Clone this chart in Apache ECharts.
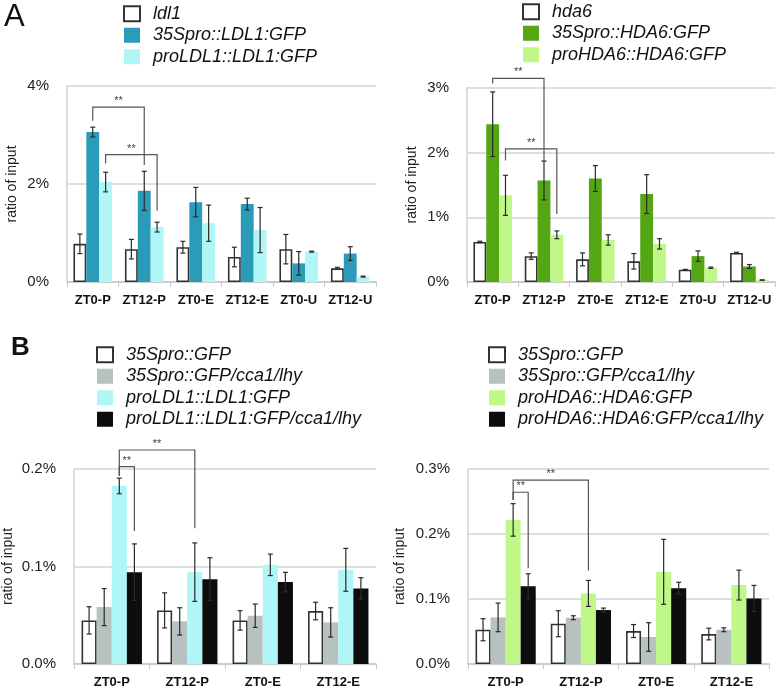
<!DOCTYPE html>
<html><head><meta charset="utf-8">
<script src="https://cdn.jsdelivr.net/npm/echarts@6/dist/echarts.min.js"></script>
<style>html,body{margin:0;padding:0;background:#fff}#c{width:777px;height:690px}</style>
</head><body><div id="c"></div>
<script>
// ---- Data ----
const catsA = ['ZT0-P','ZT12-P','ZT0-E','ZT12-E','ZT0-U','ZT12-U'];
const catsB = ['ZT0-P','ZT12-P','ZT0-E','ZT12-E'];

// Panel A left (% of input)
const ldl1      = [0.78, 0.67, 0.71, 0.51, 0.67, 0.28];
const ldl1Err   = [0.20, 0.20, 0.12, 0.20, 0.30, 0.02];
const s35LDL1   = [3.06, 1.86, 1.63, 1.59, 0.38, 0.58];
const s35LDL1Err= [0.10, 0.40, 0.30, 0.12, 0.24, 0.14];
const proLDL1   = [2.04, 1.12, 1.20, 1.06, 0.62, 0.11];
const proLDL1Err= [0.20, 0.10, 0.37, 0.46, 0.01, 0.01];

// Panel A right
const hda6      = [0.62, 0.40, 0.35, 0.32, 0.19, 0.45];
const hda6Err   = [0.01, 0.05, 0.10, 0.12, 0.005, 0.01];
const s35HDA6   = [2.44, 1.57, 1.60, 1.36, 0.40, 0.24];
const s35HDA6Err= [0.50, 0.30, 0.20, 0.30, 0.08, 0.03];
const proHDA6   = [1.34, 0.73, 0.65, 0.59, 0.22, 0.03];
const proHDA6Err= [0.31, 0.06, 0.08, 0.08, 0.01, 0.0];

// Panel B left
const gfpL        = [0.0447, 0.0550, 0.0447, 0.0543];
const gfpLErr     = [0.014, 0.018, 0.010, 0.009];
const gfpCcaL     = [0.0584, 0.0437, 0.0495, 0.0427];
const gfpCcaLErr  = [0.019, 0.014, 0.012, 0.015];
const proLDL1B    = [0.1826, 0.0942, 0.1017, 0.0966];
const proLDL1BErr = [0.008, 0.030, 0.011, 0.022];
const proLDL1Cca  = [0.0942, 0.0870, 0.0840, 0.0775];
const proLDL1CcaErr=[0.029, 0.022, 0.010, 0.011];

// Panel B right
const gfpR        = [0.0527, 0.0620, 0.0507, 0.0461];
const gfpRErr     = [0.017, 0.020, 0.010, 0.009];
const gfpCcaR     = [0.0717, 0.0712, 0.0415, 0.0527];
const gfpCcaRErr  = [0.022, 0.003, 0.022, 0.003];
const proHDA6B    = [0.2217, 0.1086, 0.1418, 0.1214];
const proHDA6BErr = [0.025, 0.020, 0.050, 0.023];
const proHDA6Cca  = [0.1198, 0.0830, 0.1167, 0.1009];
const proHDA6CcaErr=[0.019, 0.003, 0.009, 0.020];

// significance brackets: [catA, barA, yStartA, catB, barB, yEndB, yTop]
const bracketsAL = [[0,1,3.29, 1,1,2.39, 3.57],[0,2,2.42, 1,2,1.46, 2.60]];
const bracketsAR = [[0,1,3.07, 1,1,1.87, 3.15],[0,2,1.88, 1,2,1.05, 2.06]];
const bracketsBL = [[0,2,0.1928, 1,2,0.1392, 0.2195],[0,2,0.1928, 0,3,0.1365, 0.2024]];
const bracketsBR = [[0,2,0.2524, 1,2,0.1439, 0.2830],[0,2,0.2524, 0,3,0.1475, 0.2642]];

// ---- Styles ----
const FONT = '"Liberation Sans", Arial, sans-serif';
const C = {blue:'#2a9cba', cyan:'#b1f6f6', green:'#54a615', lgreen:'#bff788', gray:'#b7c1bf', black:'#0d0d0d'};
const whiteStyle = {color:'#fff', borderColor:'#333', borderWidth:1.6};

const panels = [
  {grid:{left:67, top:86, width:309, height:196}, cats:catsA, max:4, interval:2, dec:0, nameGap:48, gap:0.25,
   series:[['ldl1',ldl1,ldl1Err,'w'],['35Spro::LDL1:GFP',s35LDL1,s35LDL1Err,C.blue],['proLDL1::LDL1:GFP',proLDL1,proLDL1Err,C.cyan]],
   brackets:bracketsAL, legend:{left:123, top:3}},
  {grid:{left:467, top:88, width:308, height:194}, cats:catsA, max:3, interval:1, dec:0, nameGap:48, gap:0.25,
   series:[['hda6',hda6,hda6Err,'w'],['35Spro::HDA6:GFP',s35HDA6,s35HDA6Err,C.green],['proHDA6::HDA6:GFP',proHDA6,proHDA6Err,C.lgreen]],
   brackets:bracketsAR, legend:{left:522, top:1}},
  {grid:{left:74, top:469, width:302, height:195}, cats:catsB, max:0.2, interval:0.1, dec:1, nameGap:59, gap:0.2,
   series:[['35Spro::GFP',gfpL,gfpLErr,'w'],['35Spro::GFP/cca1/lhy',gfpCcaL,gfpCcaLErr,C.gray],['proLDL1::LDL1:GFP',proLDL1B,proLDL1BErr,C.cyan],['proLDL1::LDL1:GFP/cca1/lhy',proLDL1Cca,proLDL1CcaErr,C.black]],
   brackets:bracketsBL, legend:{left:96, top:344}},
  {grid:{left:468, top:469, width:301, height:195}, cats:catsB, max:0.3, interval:0.1, dec:1, nameGap:61, gap:0.2,
   series:[['35Spro::GFP',gfpR,gfpRErr,'w'],['35Spro::GFP/cca1/lhy',gfpCcaR,gfpCcaRErr,C.gray],['proHDA6::HDA6:GFP',proHDA6B,proHDA6BErr,C.lgreen],['proHDA6::HDA6:GFP/cca1/lhy',proHDA6Cca,proHDA6CcaErr,C.black]],
   brackets:bracketsBR, legend:{left:488, top:344}}
];

const grid=[], xAxis=[], yAxis=[], series=[], legend=[];
panels.forEach((p, pi) => {
  grid.push(Object.assign({outerBoundsMode:'none'}, p.grid));
  xAxis.push({type:'category', gridIndex:pi, data:p.cats,
    axisLine:{lineStyle:{color:'#c4c8c8', width:1.5}},
    axisTick:{show:true, length:5, lineStyle:{color:'#c4c8c8'}},
    axisLabel:{interval:0, margin:12, color:'#111', fontWeight:'bold', fontSize:13, fontFamily:FONT}});
  yAxis.push({type:'value', gridIndex:pi, min:0, max:p.max, interval:p.interval,
    name:'ratio of input', nameLocation:'middle', nameGap:p.nameGap, nameRotate:90,
    nameTextStyle:{fontSize:14, color:'#222', fontFamily:FONT},
    axisLine:{show:true, lineStyle:{color:'#cfd4d4', width:1.5}}, axisTick:{show:false},
    splitLine:{lineStyle:{color:'#cbd7d5', width:1.5}},
    axisLabel:{margin:18, fontSize:15, color:'#222', fontFamily:FONT,
      formatter: v => v.toFixed(p.dec) + '%'}});
  const n = p.series.length;
  const errData = [];
  p.series.forEach((s, si) => {
    series.push({type:'bar', name:s[0], xAxisIndex:pi, yAxisIndex:pi, data:s[1],
      barGap:'0%', barCategoryGap:(p.gap*100)+'%',
      itemStyle: s[3]==='w' ? whiteStyle : {color:s[3]}, emphasis:{disabled:true}});
    s[1].forEach((v, ci) => errData.push([ci, si, v, s[2][ci]]));
  });
  const barX = (api, cat, bi) => {
    const band = api.size([1,0])[0];
    const bw = band*(1-p.gap)/n;
    return api.coord([cat, 0])[0] + (bi - (n-1)/2)*bw;
  };
  series.push({type:'custom', xAxisIndex:pi, yAxisIndex:pi, data:errData, z:5, silent:true,
    encode:{x:0, y:2},
    renderItem:(params, api) => {
      const cat=api.value(0), bi=api.value(1), v=api.value(2), e=api.value(3);
      const x = barX(api, cat, bi);
      const y1 = api.coord([cat, v+e])[1], y2 = api.coord([cat, Math.max(v-e,0)])[1];
      const st = {stroke:'#2a2a2a', lineWidth:1.2};
      return {type:'group', children:[
        {type:'line', shape:{x1:x, y1:y1, x2:x, y2:y2}, style:st},
        {type:'line', shape:{x1:x-2.5, y1:y1, x2:x+2.5, y2:y1}, style:st},
        {type:'line', shape:{x1:x-2.5, y1:y2, x2:x+2.5, y2:y2}, style:st}]};
    }});
  series.push({type:'custom', xAxisIndex:pi, yAxisIndex:pi, data:p.brackets, z:6, silent:true, clip:false,
    encode:{x:0, y:2},
    renderItem:(params, api) => {
      const xa = barX(api, api.value(0), api.value(1));
      const xb = barX(api, api.value(3), api.value(4));
      const ya = api.coord([api.value(0), api.value(2)])[1];
      const yb = api.coord([api.value(0), api.value(5)])[1];
      const yt = api.coord([api.value(0), api.value(6)])[1];
      return {type:'group', children:[
        {type:'polyline', shape:{points:[[xa,ya],[xa,yt],[xb,yt],[xb,yb]]}, style:{stroke:'#555', lineWidth:1.2, fill:null}},
        {type:'text', x:(xa+xb)/2, y:yt-6, style:{text:'**', fill:'#444', fontSize:11, fontFamily:FONT, align:'center', verticalAlign:'middle'}}]};
    }});
  legend.push({orient:'vertical', left:p.legend.left, top:p.legend.top, padding:0, itemGap:0,
    itemWidth:16, itemHeight:15, icon:'rect', selectedMode:false,
    data:p.series.map(s => s[0]),
    textStyle:{fontSize:18, fontStyle:'italic', color:'#111', fontFamily:FONT, lineHeight:21.5, padding:[0,0,0,8]}});
});

const chart = echarts.init(document.getElementById('c'), null, {renderer:'canvas'});
chart.setOption({
  animation:false, backgroundColor:'#fff',
  grid, xAxis, yAxis, series, legend,
  graphic:[
    {type:'text', left:4, top:2, style:{text:'A', fontSize:31, fontFamily:FONT, fill:'#111'}},
    {type:'text', left:11, top:335, style:{text:'B', fontSize:26, fontWeight:'bold', fontFamily:FONT, fill:'#111'}}
  ]
});
</script></body></html>
